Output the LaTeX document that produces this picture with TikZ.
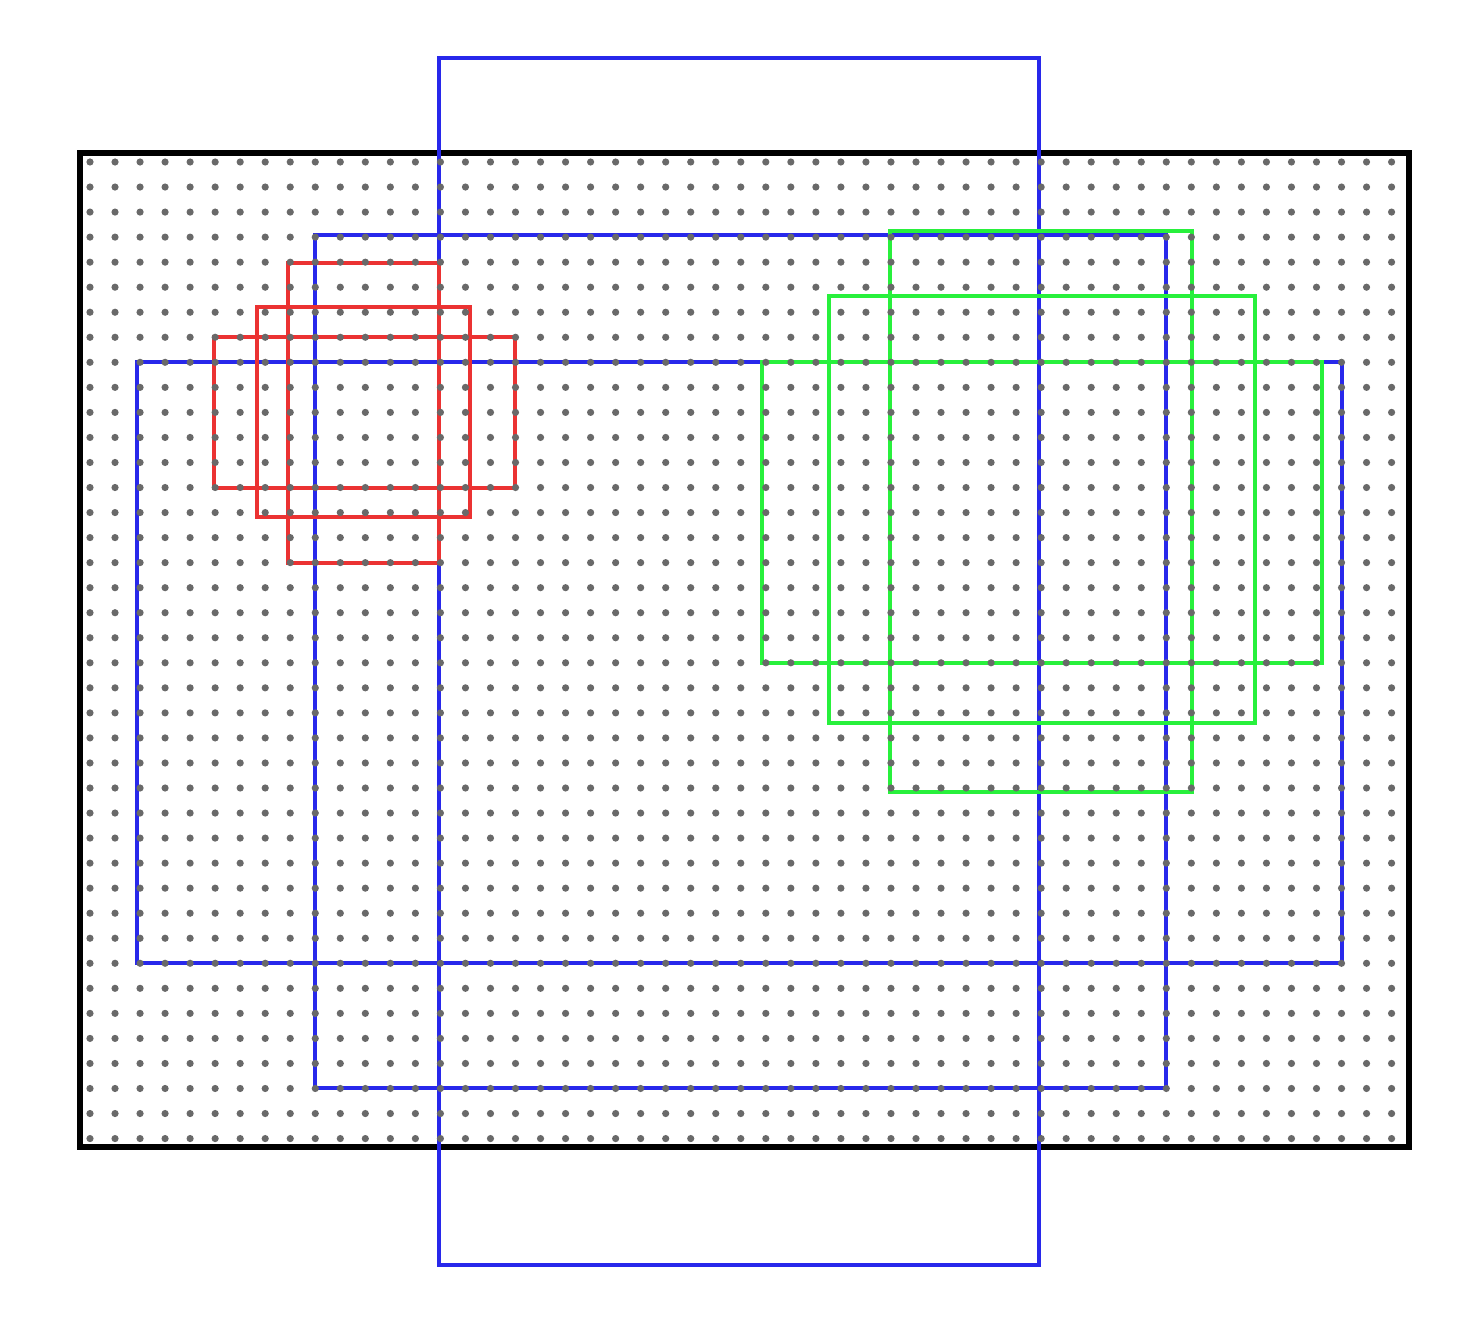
\documentclass[tikz,border=0pt]{standalone}
\usepackage{tikz}
\definecolor{anchorblue}{RGB}{40,40,235}
\definecolor{anchorred}{RGB}{235,50,50}
\definecolor{anchorgreen}{RGB}{40,240,60}
\definecolor{dotgray}{RGB}{105,105,105}
\tikzset{
  imgframe/.style={draw=black,line width=2.8pt},
  bluebox/.style={draw=anchorblue,line width=2pt},
  redbox/.style={draw=anchorred,line width=2.4pt},
  greenbox/.style={draw=anchorgreen,line width=2.4pt},
  griddot/.style={fill=dotgray}
}
\begin{document}
\begin{tikzpicture}[x=0.5pt,y=-0.5pt]
\useasboundingbox (0,0) rectangle (1481,1331);
% image frame
\draw[imgframe] (80,153) rectangle (1409,1147);
% blue anchors (large)
\draw[bluebox] (315,235) rectangle (1166,1088);
\draw[bluebox] (137,362) rectangle (1342,963);
\draw[bluebox] (439,58) rectangle (1039,1265);
% red anchors (small)
\draw[redbox] (288,263) rectangle (439,563);
\draw[redbox] (257,307) rectangle (470,517);
\draw[redbox] (214,337) rectangle (515,488);
% green anchors (medium)
\draw[greenbox] (890,231) rectangle (1192,792);
\draw[greenbox] (829,296) rectangle (1255,723);
\draw[greenbox] (762,362) rectangle (1322,663);
% dot grid
\foreach \i in {0,...,52}{
  \foreach \j in {0,...,39}{
    \fill[griddot] ({90+25.03*\i},{162+25.04*\j}) circle[radius=3.6];
  }
}
\end{tikzpicture}
\end{document}
